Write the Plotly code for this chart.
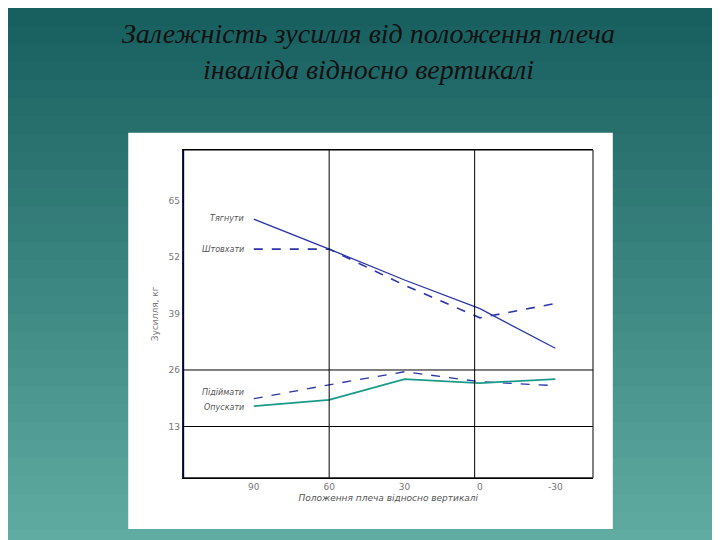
import plotly.graph_objects as go

x_pos = [0, 1, 2, 3, 4]
x_labels = ["90", "60", "30", "0", "-30"]
y_ticks = [13, 26, 39, 52, 65]

pull = [60.7, 53.8, 46.7, 40.1, 31.0]      # Тягнути
push = [53.8, 53.8, 45.5, 38.0, 41.3]      # Штовхати
lift = [19.4, 22.6, 25.6, 23.3, 22.4]      # Підіймати
lower = [17.7, 19.1, 23.9, 23.0, 23.9]     # Опускати

fig = go.Figure()
fig.add_trace(go.Scatter(x=x_pos, y=pull, mode="lines", line=dict(color="#2a35a8", width=1.3)))
fig.add_trace(go.Scatter(x=x_pos, y=push, mode="lines", line=dict(color="#2a35a8", width=1.6, dash="dash")))
fig.add_trace(go.Scatter(x=x_pos, y=lift, mode="lines", line=dict(color="#2a35a8", width=1.3, dash="dash")))
fig.add_trace(go.Scatter(x=x_pos, y=lower, mode="lines", line=dict(color="#1a9a8a", width=1.8)))

# slide background gradient
shapes = []
top = (24, 96, 96)
bot = (96, 172, 162)
n = 30
for i in range(n):
    t = i / (n - 1)
    c = tuple(int(top[k] + (bot[k] - top[k]) * t) for k in range(3))
    shapes.append(dict(type="rect", xref="paper", yref="paper", x0=0, x1=1,
                       y0=1 - (i + 1) / n, y1=1 - i / n, line_width=0,
                       fillcolor="rgb(%d,%d,%d)" % c, layer="below"))
shapes.append(dict(type="rect", xref="paper", yref="paper", x0=0.167, x1=0.84,
                   y0=0.035, y1=0.769, fillcolor="white", line_width=0, layer="below"))
# grid lines
for xv in [1.0, 2.93]:
    shapes.append(dict(type="line", xref="x", yref="paper", x0=xv, x1=xv, y0=0.13, y1=0.737,
                       line=dict(color="black", width=1)))
for yv in [13, 26]:
    shapes.append(dict(type="line", xref="paper", yref="y", x0=0.244, x1=0.8125, y0=yv, y1=yv,
                       line=dict(color="black", width=1)))

labels = [("Тягнути", -0.1, 60.9), ("Штовхати", -0.1, 53.8),
          ("Підіймати", -0.1, 20.8), ("Опускати", -0.1, 17.4)]
annotations = [dict(x=x, y=y, text="<i>%s</i>" % t, showarrow=False, xanchor="right",
                    font=dict(family="DejaVu Sans", size=8, color="#555555"))
               for t, x, y in labels]
annotations.append(dict(x=0.5, y=0.985, xref="paper", yref="paper", showarrow=False, yanchor="top",
                        text="<i>Залежність зусилля від положення плеча<br>інваліда відносно вертикалі</i>",
                        font=dict(family="Liberation Serif", size=28, color="#111111")))

fig.update_layout(
    width=720, height=540, showlegend=False,
    margin=dict(l=0, r=0, t=0, b=0),
    paper_bgcolor="#2e7a78", plot_bgcolor="rgba(0,0,0,0)",
    shapes=shapes, annotations=annotations,
    xaxis=dict(domain=[0.244, 0.8125], range=[-0.93, 4.5], tickvals=x_pos, ticktext=x_labels,
               showgrid=False, zeroline=False, showline=True, linecolor="black", mirror=True,
               tickfont=dict(family="DejaVu Sans", size=9, color="#777777"),
               title=dict(text="<i>Положення плеча відносно вертикалі</i>",
                          font=dict(family="DejaVu Sans", size=9, color="#555555"), standoff=4)),
    yaxis=dict(domain=[0.13, 0.737], range=[1.2, 76.6], tickvals=y_ticks, ticktext=[str(v) for v in y_ticks],
               showgrid=False, zeroline=False, showline=True, linecolor="#1a1a6a", linewidth=2,
               mirror=False, ticks="", tickfont=dict(family="DejaVu Sans", size=9, color="#777777"),
               title=dict(text="Зусилля, кг", font=dict(family="DejaVu Sans", size=9, color="#777777"),
                          standoff=8)),
)
fig.add_shape(type="rect", xref="paper", yref="paper", x0=0.244, x1=0.8125, y0=0.13, y1=0.737,
              line=dict(color="black", width=1))

fig.write_html("out.html")
